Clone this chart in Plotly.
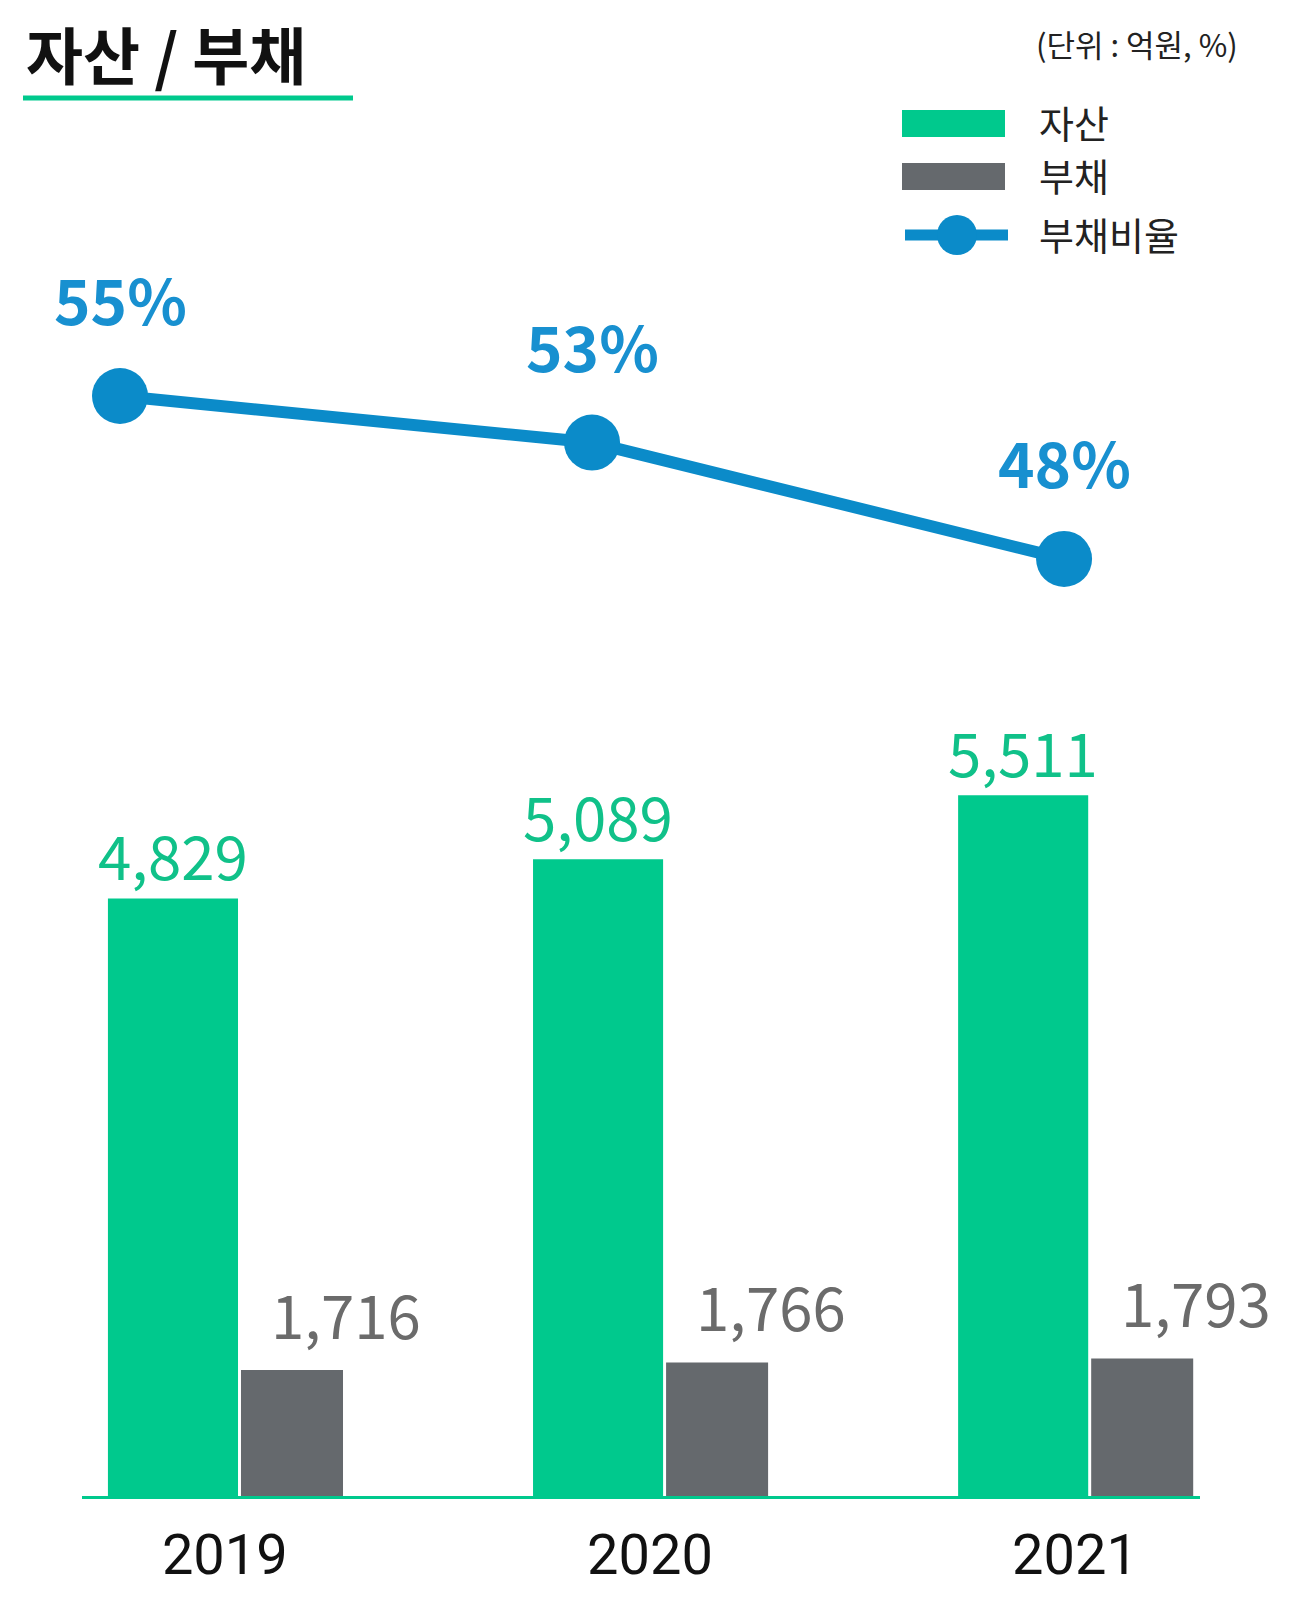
import plotly.graph_objects as go

# ---- data ----
years = ["2019", "2020", "2021"]
assets = [4829, 5089, 5511]
liabilities = [1716, 1766, 1793]
debt_ratio = [55, 53, 48]
asset_labels = ["4,829", "5,089", "5,511"]
liab_labels = ["1,716", "1,766", "1,793"]
ratio_labels = ["55%", "53%", "48%"]
legend_names = ["자산", "부채", "부채비율"]
title_text = "자산 / 부채"
unit_text = "(단위 : 억원, %)"

# ---- style ----
PAGE_W, PAGE_H = 1309, 1601
OFF = 8  # default body margin of the html page
W, H = PAGE_W - OFF, PAGE_H - OFF
FONT = "Noto Sans CJK KR"
GREEN = "#00c98d"
GREEN_TXT = "#10c189"
GRAY = "#65696d"
GRAY_TXT = "#6b6b6b"
BLUE = "#0b8bc9"
BLUE_TXT = "#1890d0"


def px(x):
    return (x - OFF) / W


def py(y):
    return 1 - (y - OFF) / H


pos = list(range(len(years)))
G_OFF, G_W = -0.275, 0.306
L_OFF, L_W = 0.038, 0.24

fig = go.Figure()
fig.add_bar(x=pos, y=assets, offset=G_OFF, width=G_W, marker_color=GREEN,
            marker_line_width=0, name=legend_names[0], xaxis="x", yaxis="y")
fig.add_bar(x=pos, y=liabilities, offset=L_OFF, width=L_W, marker_color=GRAY,
            marker_line_width=0, name=legend_names[1], xaxis="x", yaxis="y")
fig.add_scatter(x=pos, y=debt_ratio, mode="lines+markers",
                line=dict(color=BLUE, width=12),
                marker=dict(size=56, color=BLUE),
                name=legend_names[2], xaxis="x2", yaxis="y2")

ann = []
for i in pos:
    ann.append(dict(x=i + G_OFF + G_W / 2, y=assets[i], xref="x", yref="y",
                    text=asset_labels[i], showarrow=False, yanchor="middle",
                    yshift=45, font=dict(family=FONT, size=60, color=GREEN_TXT)))
    ann.append(dict(x=i + L_OFF + L_W / 2, y=liabilities[i], xref="x", yref="y",
                    text=liab_labels[i], showarrow=False, yanchor="middle",
                    xshift=54, yshift=58, font=dict(family=FONT, size=60, color=GRAY_TXT)))
    ann.append(dict(x=i, y=debt_ratio[i], xref="x2", yref="y2",
                    text=ratio_labels[i], showarrow=False, yanchor="middle",
                    yshift=98, font=dict(family=FONT, size=62, color=BLUE_TXT, weight="bold")))

# title & unit
ann.append(dict(x=px(24), y=py(53), xref="paper", yref="paper", xanchor="left",
                yanchor="middle", text=title_text, showarrow=False,
                font=dict(family=FONT, size=62, color="#111111", weight="bold")))
ann.append(dict(x=px(1240), y=py(43), xref="paper", yref="paper", xanchor="right",
                yanchor="middle", text=unit_text, showarrow=False,
                font=dict(family=FONT, size=31, color="#222222")))
# legend labels
for name, yy in zip(legend_names, [122, 175, 233]):
    ann.append(dict(x=px(1037), y=py(yy), xref="paper", yref="paper", xanchor="left",
                    yanchor="middle", text=name, showarrow=False,
                    font=dict(family=FONT, size=38, color="#222222")))

shapes = [
    dict(type="line", xref="paper", yref="paper", x0=px(23), x1=px(353),
         y0=py(98), y1=py(98), line=dict(color=GREEN, width=5)),
    dict(type="rect", xref="paper", yref="paper", x0=px(902), x1=px(1005),
         y0=py(137), y1=py(110), fillcolor=GREEN, line_width=0),
    dict(type="rect", xref="paper", yref="paper", x0=px(902), x1=px(1005),
         y0=py(190), y1=py(163), fillcolor=GRAY, line_width=0),
    dict(type="line", xref="paper", yref="paper", x0=px(905), x1=px(1008),
         y0=py(235), y1=py(235), line=dict(color=BLUE, width=11)),
    dict(type="circle", xref="paper", yref="paper", x0=px(937), x1=px(977),
         y0=py(255), y1=py(215), fillcolor=BLUE, line_width=0),
]

fig.update_layout(
    width=W, height=H,
    margin=dict(l=0, r=0, t=0, b=0),
    paper_bgcolor="white", plot_bgcolor="white",
    showlegend=False, barmode="overlay",
    font=dict(family=FONT),
    annotations=ann, shapes=shapes,
    xaxis=dict(domain=[px(82), px(1200)], range=[-0.336, 2.294],
               tickmode="array", tickvals=pos, ticktext=years,
               tickfont=dict(family="Roboto", size=56, color="#111111"),
               showline=True, linecolor=GREEN, linewidth=3,
               showgrid=False, zeroline=False, ticks="",
               ticklabelstandoff=8, automargin=False, fixedrange=True),
    yaxis=dict(domain=[py(1496), py(8)], range=[885, 10708], visible=False,
               automargin=False),
    xaxis2=dict(overlaying="x", range=[-0.0805, 2.288], visible=False),
    yaxis2=dict(overlaying="y", range=[7.74, 71.67], visible=False),
)

fig.write_html("out.html")
